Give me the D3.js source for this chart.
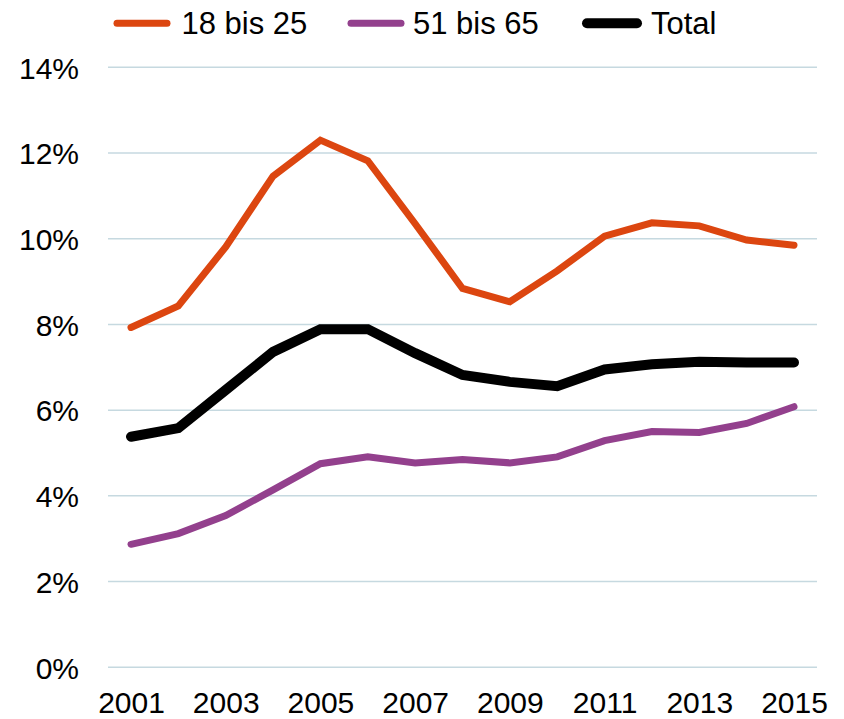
<!DOCTYPE html>
<html>
<head>
<meta charset="utf-8">
<script src="https://cdn.jsdelivr.net/npm/d3@7"></script>
<style>
html,body{margin:0;padding:0;background:#fff;}
svg{display:block;font-family:"Liberation Sans",Arial,sans-serif;}
</style>
</head>
<body>
<svg id="chart" width="844" height="719"></svg>
<script>
const years = [2001,2002,2003,2004,2005,2006,2007,2008,2009,2010,2011,2012,2013,2014,2015];
const age18to25 = [7.93,8.43,9.81,11.46,12.30,11.82,10.35,8.84,8.53,9.25,10.06,10.37,10.30,9.97,9.85];
const age51to65 = [2.87,3.12,3.54,4.14,4.75,4.91,4.77,4.85,4.77,4.91,5.29,5.50,5.48,5.69,6.08];
const total = [5.38,5.58,6.47,7.36,7.89,7.89,7.33,6.82,6.66,6.56,6.95,7.07,7.13,7.11,7.11];
const yTicks = [0,2,4,6,8,10,12,14];
const xTickYears = [2001,2003,2005,2007,2009,2011,2013,2015];
const seriesNames = ["18 bis 25","51 bis 65","Total"];

const series = [
  {name: seriesNames[0], values: age18to25, color: "#DC4610", width: 7},
  {name: seriesNames[1], values: age51to65, color: "#93408D", width: 7},
  {name: seriesNames[2], values: total, color: "#000000", width: 10}
];

const svg = d3.select("#chart");
const x = d3.scaleLinear().domain([2001,2015]).range([131,794]);
const y = d3.scaleLinear().domain([0,14]).range([667.3,67.3]);
const gridLeft = 108, gridRight = 817;

// gridlines
svg.append("g").selectAll("line").data(yTicks).join("line")
  .attr("x1", gridLeft).attr("x2", gridRight)
  .attr("y1", d => y(d)).attr("y2", d => y(d))
  .attr("stroke", "#C6D9E0").attr("stroke-width", 1.5);

// y axis labels
const yAxis = d3.axisLeft(y).tickValues(yTicks).tickFormat(d => d + "%").tickSize(0).tickPadding(0);
const gy = svg.append("g").attr("transform", "translate(79,0)").call(yAxis);
gy.select(".domain").remove();
gy.selectAll("text").attr("font-size", 30).attr("fill", "#000")
  .attr("font-family", "Liberation Sans, Arial, sans-serif").attr("dy", "0.36em");

// x axis labels
const xAxis = d3.axisBottom(x).tickValues(xTickYears).tickFormat(d3.format("d")).tickSize(0).tickPadding(0);
const gx = svg.append("g").attr("transform", "translate(0,712.5)").call(xAxis);
gx.select(".domain").remove();
gx.selectAll("text").attr("font-size", 30).attr("fill", "#000")
  .attr("font-family", "Liberation Sans, Arial, sans-serif").attr("y", 0).attr("dy", 0);

// lines
const line = d3.line().x((d,i) => x(years[i])).y(d => y(d));
svg.append("g").selectAll("path").data(series).join("path")
  .attr("d", d => line(d.values))
  .attr("fill", "none")
  .attr("stroke", d => d.color)
  .attr("stroke-width", d => d.width)
  .attr("stroke-linejoin", "miter")
  .attr("stroke-linecap", "round");

// legend
const legendLineX = [117, 351, 587];
const legendTextX = [181.5, 413, 651];
const leg = svg.append("g").selectAll("g").data(series).join("g");
leg.append("line")
  .attr("x1", (d,i) => legendLineX[i]).attr("x2", (d,i) => legendLineX[i] + 50)
  .attr("y1", 23.3).attr("y2", 23.3)
  .attr("stroke", d => d.color).attr("stroke-width", d => d.width)
  .attr("stroke-linecap", "round");
leg.append("text").attr("x", (d,i) => legendTextX[i]).attr("y", 23).attr("dy", "0.36em")
  .attr("font-size", 31).attr("fill", "#000")
  .text(d => d.name);
</script>
</body>
</html>
